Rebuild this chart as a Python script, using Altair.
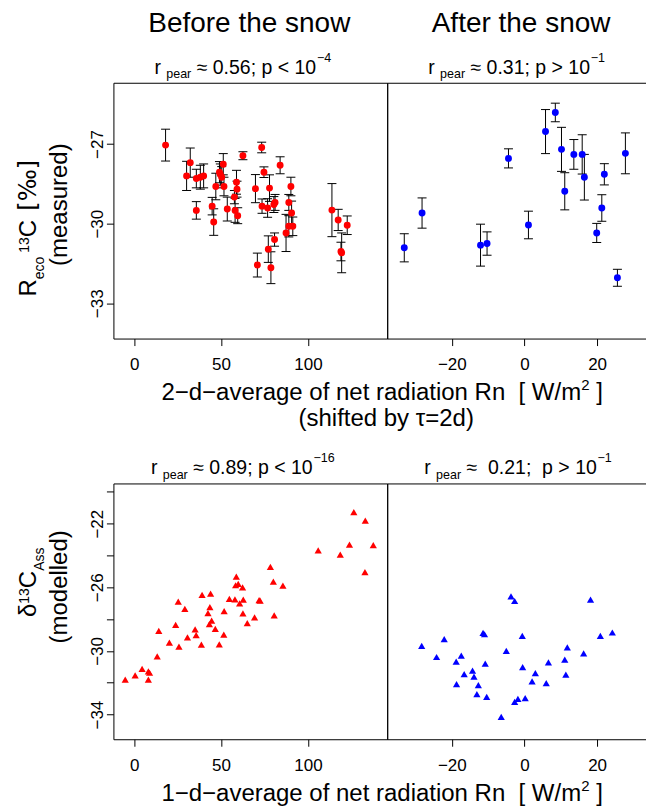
import altair as alt
import pandas as pd

FONT = "Liberation Sans"
RED = "#ff0000"
BLUE = "#0000ff"

# ---------------- data ----------------
before_meas_rn = [18.1, 30.2, 32.3, 35.8, 35.8, 38.1, 40.0, 44.9, 45.8, 47.0, 49.1, 49.6, 50.4,
                  51.3, 51.7, 53.6, 57.7, 58.1, 58.9, 59.2, 59.6, 62.6, 69.8, 70.9, 73.4, 73.6,
                  74.7, 76.8, 77.2, 77.9, 78.7, 80.4, 80.8, 81.1, 84.0, 87.4, 89.0, 89.0, 90.2,
                  90.6, 91.3, 113.8, 117.4, 119.0, 119.4, 122.6]
before_meas_d13c = [-27.04, -28.2, -27.7, -28.3, -29.5, -28.25, -28.2, -29.34, -29.94, -28.6,
                    -28.06, -28.15, -28.25, -27.76, -28.6, -29.45, -29.0, -29.5, -28.44, -28.7,
                    -29.7, -27.44, -28.68, -31.56, -27.13, -29.34, -28.06, -29.41, -30.96,
                    -28.66, -31.66, -29.28, -30.6, -29.2, -27.8, -30.35, -29.2, -30.1, -28.6,
                    -29.6, -30.1, -29.49, -29.86, -31.05, -31.1, -30.06]
before_meas_err = [0.6, 0.55, 0.55, 0.35, 0.33, 0.45, 0.45, 0.33, 0.5, 0.5, 0.4, 0.4, 0.4, 0.4,
                   0.35, 0.45, 0.25, 0.45, 0.45, 0.3, 0.3, 0.15, 0.53, 0.45, 0.2, 0.27, 0.2,
                   0.35, 0.5, 0.5, 0.6, 0.3, 0.25, 0.3, 0.32, 0.7, 0.3, 0.4, 0.35, 0.45, 0.35,
                   1.0, 0.4, 0.35, 0.75, 0.35]

after_meas_rn = [-33.1, -28.2, -12.1, -10.3, -4.4, 1.1, 5.8, 8.5, 10.2, 11.1, 13.6, 15.9, 16.5,
                 19.9, 21.3, 22.0, 25.6, 27.8]
after_meas_d13c = [-30.91, -29.6, -30.81, -30.75, -27.54, -30.05, -26.53, -25.81, -27.2, -28.78,
                   -27.39, -27.39, -28.25, -30.35, -29.41, -28.14, -32.04, -27.35]
after_meas_err = [0.53, 0.57, 0.79, 0.44, 0.36, 0.52, 0.83, 0.35, 0.83, 0.7, 0.56, 0.74, 0.86,
                  0.36, 0.5, 0.4, 0.32, 0.77]

before_mod_rn = [-5.1, 0.6, 4.6, 8.2, 8.9, 8.2, 13.3, 14.2, 20.3, 23.9, 25.4, 25.8, 29.2, 30.7,
                 35.1, 35.7, 38.7, 39.1, 42.5, 43.6, 44.0, 43.3, 44.6, 46.7, 49.0, 51.6, 51.8,
                 54.8, 58.0, 58.4, 58.8, 59.9, 60.7, 62.4, 62.8, 62.6, 65.1, 69.3, 71.9, 72.5,
                 78.4, 80.1, 80.6, 85.6, 105.9, 118.6, 123.9, 126.4, 133.0, 132.8, 137.6]
before_mod_d13c = [-31.81, -31.54, -31.12, -31.28, -31.37, -31.81, -30.34, -28.74, -29.47,
                   -28.36, -26.9, -29.73, -27.35, -29.14, -28.65, -29.01, -29.6, -26.48, -27.62,
                   -27.24, -26.4, -28.32, -28.1, -28.61, -29.58, -28.97, -27.49, -26.72, -26.76,
                   -25.87, -25.33, -25.79, -27.01, -26.0, -26.78, -27.64, -28.25, -27.89, -26.8,
                   -26.84, -24.72, -25.64, -27.77, -25.89, -23.68, -23.94, -23.31, -21.28,
                   -21.81, -25.05, -23.35]

after_mod_rn = [-28.3, -24.2, -22.1, -18.8, -18.7, -17.4, -16.6, -14.3, -13.9, -13.1, -12.7,
                -11.4, -11.0, -10.8, -10.4, -6.4, -5.0, -3.7, -2.7, -2.7, -1.8, -0.6, -0.5, 0.2,
                2.1, 3.0, 6.0, 6.6, 11.1, 11.4, 11.8, 16.3, 18.2, 20.9, 24.2]
after_mod_d13c = [-29.68, -30.38, -29.26, -30.67, -32.08, -30.29, -31.45, -31.24, -31.62, -32.72,
                  -32.15, -28.86, -28.95, -30.8, -32.88, -34.15, -30.0, -26.57, -26.86, -33.2,
                  -33.01, -29.05, -31.01, -32.97, -31.92, -31.39, -32.02, -30.72, -30.55, -31.49,
                  -29.77, -30.15, -26.78, -29.05, -28.84]

x_ticks_before = [0, 50, 100]
x_ticks_after = [-20, 0, 20]
y_ticks_meas = [-33, -30, -27]
y_ticks_mod = [-34, -32, -30, -28, -26, -24, -22, -20]
y_labels_mod = [-34, -30, -26, -22]
panel_titles = ["Before the snow", "After the snow"]
stat_texts = [(" \u2248 0.56; p < 10", "\u22124"), (" \u2248 0.31; p > 10", "\u22121"),
              (" \u2248 0.89; p < 10", "\u221216"), (" \u2248\u00a0 0.21;\u00a0 p > 10", "\u22121")]

# ---------------- layout constants ----------------
W_PANEL, H_PANEL = 274, 256
X_BEFORE = [-11.9, 145.6]
X_AFTER = [-37.8, 37.6]
Y_MEAS = [-34.33, -24.69]
Y_MOD = [-35.55, -19.47]

# Helvetica/Arial advance widths (1/1000 em)
ADV = {' ': 278, '\u00a0': 278, '(': 333, ')': 333, '.': 278, '/': 278, ';': 278, '<': 584,
       '=': 584, '>': 584, '[': 278, ']': 278, '\u2212': 584, '\u2248': 584, '\u03c4': 440,
       '\u2030': 1000, '\u03b4': 556,
       'a': 556, 'b': 556, 'c': 500, 'd': 556, 'e': 556, 'f': 278, 'g': 556, 'h': 556, 'i': 222,
       'l': 222, 'm': 833, 'n': 556, 'o': 556, 'p': 556, 'r': 333, 's': 500, 't': 278, 'u': 556,
       'v': 500, 'w': 722, 'y': 500, 'A': 667, 'B': 667, 'C': 722, 'R': 722, 'W': 944}


def tw(s, size):
    return sum(ADV.get(c, 556) for c in s) / 1000.0 * size


def txt(s, x, y, size, align="left", angle=0, font=FONT):
    return alt.Chart(pd.DataFrame({"t": [s]})).mark_text(
        x=x, y=y, fontSize=size, align=align, baseline="alphabetic", angle=angle,
        font=font, color="black").encode(text="t:N")


def hpieces(pieces, x0, yb):
    out, cur = [], x0
    for s, size, dy, *f in pieces:
        core = s.strip(' ')
        lead = len(s) - len(s.lstrip(' '))
        out.append(txt(core, cur + tw(' ' * lead, size), yb + dy, size, font=(f[0] if f else FONT)))
        cur += tw(s, size)
    return out


def hwidth(pieces):
    return sum(tw(p[0], p[1]) for p in pieces)


def vpieces(pieces, xb, y0):
    out, cur = [], y0
    for s, size, dx, *f in pieces:
        core = s.strip(' ')
        lead = len(s) - len(s.lstrip(' '))
        out.append(txt(core, xb + dx, cur - tw(' ' * lead, size), size, angle=270,
                       font=(f[0] if f else FONT)))
        cur -= tw(s, size)
    return out


def stat_layers(i, x0):
    main, ex = stat_texts[i]
    return hpieces([("r ", 19.5, 0), ("pear", 12.5, 4.5), (main, 19.5, 0), (ex, 12.5, -12)], x0, -9)


def x_axis(vals):
    return alt.Axis(values=vals, title=None, domain=False, grid=False, tickSize=7,
                    tickColor="black", tickWidth=1, labelFont=FONT, labelFontSize=17,
                    labelColor="black", labelPadding=11, labelFlush=False, labelOverlap=False)


def y_axis(vals, labelled=None):
    kw = {}
    if labelled is not None:
        kw["labelExpr"] = "indexof(%s, datum.value) >= 0 ? datum.label : ''" % str(labelled)
    return alt.Axis(values=vals, title=None, domain=False, grid=False, tickSize=7,
                    tickColor="black", tickWidth=1, labelFont=FONT, labelFontSize=17,
                    labelColor="black", labelAngle=270, labelAlign="center",
                    labelBaseline="alphabetic", labelPadding=4.3, labelFlush=False,
                    labelOverlap=False, **kw)


def meas_panel(xs, ys, errs, color, xdom, xticks, show_y, extra):
    df = pd.DataFrame({"x": xs, "y": ys, "err": errs})
    df["lo"] = df["y"] - df["err"]
    df["hi"] = df["y"] + df["err"]
    xsc = alt.Scale(domain=xdom, nice=False, zero=False)
    ysc = alt.Scale(domain=Y_MEAS, nice=False, zero=False)
    yax = y_axis(y_ticks_meas) if show_y else None
    xe = alt.X("x:Q", scale=xsc, axis=x_axis(xticks))
    base = alt.Chart(df)
    bars = base.mark_rule(color="black", strokeWidth=1).encode(
        x=xe, y=alt.Y("lo:Q", scale=ysc, axis=yax), y2="hi:Q")
    cap_lo = base.mark_rule(color="black", strokeWidth=1, xOffset=-4.5, x2Offset=4.5).encode(
        x=xe, x2="x:Q", y=alt.Y("lo:Q", scale=ysc, axis=yax))
    cap_hi = base.mark_rule(color="black", strokeWidth=1, xOffset=-4.5, x2Offset=4.5).encode(
        x=xe, x2="x:Q", y=alt.Y("hi:Q", scale=ysc, axis=yax))
    pts = base.mark_point(shape="circle", filled=True, size=48, opacity=1, color=color).encode(
        x=xe, y=alt.Y("y:Q", scale=ysc, axis=yax))
    return alt.layer(bars, cap_lo, cap_hi, pts, *extra).properties(width=W_PANEL, height=H_PANEL)


def mod_panel(xs, ys, color, xdom, xticks, show_y, extra):
    df = pd.DataFrame({"x": xs, "y": ys})
    xsc = alt.Scale(domain=xdom, nice=False, zero=False)
    ysc = alt.Scale(domain=Y_MOD, nice=False, zero=False)
    yax = y_axis(y_ticks_mod, y_labels_mod) if show_y else None
    pts = alt.Chart(df).mark_point(shape="triangle-up", filled=True, size=52, opacity=1,
                                   color=color).encode(
        x=alt.X("x:Q", scale=xsc, axis=x_axis(xticks)),
        y=alt.Y("y:Q", scale=ysc, axis=yax))
    return alt.layer(pts, *extra).properties(width=W_PANEL, height=H_PANEL)


# ---------------- text annotations ----------------
anchor = alt.Chart(pd.DataFrame({"a": [0]})).mark_rule(color="white", strokeWidth=1).encode(
    x=alt.value(-110), y=alt.value(-80), y2=alt.value(-79))

xt1 = [("2\u2212d\u2212average of net radiation Rn\u00a0 [ W/m", 24, 0), ("2", 15, -10), (" ]", 24, 0)]
xt1b = [("1\u2212d\u2212average of net radiation Rn\u00a0 [ W/m", 24, 0), ("2", 15, -10), (" ]", 24, 0)]
xcenter = 382 - 113
TITLE_BASE = -51

tl_extra = [anchor, txt(panel_titles[0], 136, TITLE_BASE, 28, align="center")]
tl_extra += stat_layers(0, 41)
tl_extra += hpieces(xt1, xcenter - hwidth(xt1) / 2, 317.5)
tl_extra += [txt("(shifted by \u03c4=2d)", 273, 344, 24, align="center")]
tl_extra += vpieces([("R", 24, 0), ("eco", 14, 7.5), (" 13", 14, -7), ("C", 24, 0)], -77, 214)
tl_extra += [txt("[\u2030]", -77, 128, 24, angle=270, font="DejaVu Sans")]
tl_extra += [txt("(measured)", -46, 122, 24, align="center", angle=270)]

tr_extra = [txt(panel_titles[1], 134, TITLE_BASE, 28, align="center")]
tr_extra += stat_layers(1, 41)

bl_extra = stat_layers(2, 37.5)
bl_extra += hpieces(xt1b, xcenter - hwidth(xt1b) / 2, 317.5)
bl_extra += vpieces([("\u03b4", 24, 0), ("13", 14, -7), ("C", 24, 0), ("Ass", 14, 7.5)], -77, 133.7)
bl_extra += [txt("(modelled)", -46, 103.5, 24, align="center", angle=270)]

br_extra = stat_layers(3, 37)

tl = meas_panel(before_meas_rn, before_meas_d13c, before_meas_err, RED, X_BEFORE, x_ticks_before, True, tl_extra)
tr = meas_panel(after_meas_rn, after_meas_d13c, after_meas_err, BLUE, X_AFTER, x_ticks_after, False, tr_extra)
bl = mod_panel(before_mod_rn, before_mod_d13c, RED, X_BEFORE, x_ticks_before, True, bl_extra)
br = mod_panel(after_mod_rn, after_mod_d13c, BLUE, X_AFTER, x_ticks_after, False, br_extra)

chart = alt.concat(tl, tr, bl, br, columns=2, spacing={"row": 145, "column": 0},
                   bounds="flush").properties(
    padding={"left": -5.5, "top": -6.5, "right": -16, "bottom": 0}
).configure_view(stroke="black", strokeWidth=1)

chart.save("out.html", embed_options={"renderer": "svg", "actions": False})
